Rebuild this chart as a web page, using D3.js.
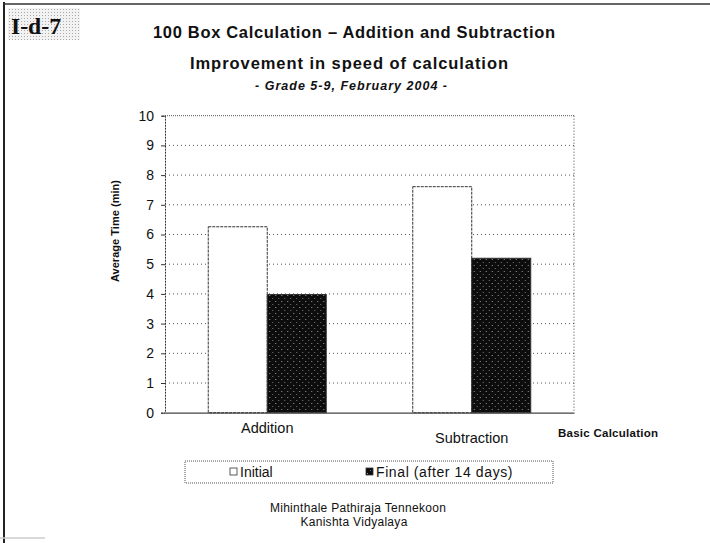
<!DOCTYPE html>
<html>
<head>
<meta charset="utf-8">
<script src="https://cdn.jsdelivr.net/npm/d3@7"></script>
<style>
  html, body { margin: 0; padding: 0; background: #fff; }
  svg { display: block; }
  text { font-family: "Liberation Sans", Arial, sans-serif; fill: #111; }
</style>
</head>
<body>
<svg id="chart" width="710" height="543"></svg>
<script>
// Average time (minutes) to finish a 100-box sheet
const categories = ["Addition", "Subtraction"];
const seriesNames = ["Initial", "Final (after 14 days)"];
const initialTimes = [6.26, 7.61];
const finalTimes = [3.98, 5.2];
const yTicks = [0, 1, 2, 3, 4, 5, 6, 7, 8, 9, 10];

const rows = categories.map((c, i) => ({
  category: c,
  values: [
    { series: seriesNames[0], value: initialTimes[i] },
    { series: seriesNames[1], value: finalTimes[i] }
  ]
}));

const svg = d3.select("#chart");
const W = 710, H = 543;
const plot = { left: 165, right: 574, top: 115.7, bottom: 412.7 };

// stippled fills for the dark bars and the reference-tag box
const defs = svg.append("defs");
const dark = defs.append("pattern").attr("id", "stipple")
  .attr("patternUnits", "userSpaceOnUse").attr("width", 6).attr("height", 6);
dark.append("rect").attr("width", 6).attr("height", 6).attr("fill", "#0d0d0d");
dark.append("rect").attr("x", 1).attr("y", 1).attr("width", 1).attr("height", 1).attr("fill", "#9a9a9a");
dark.append("rect").attr("x", 4).attr("y", 4).attr("width", 1).attr("height", 1).attr("fill", "#777");
const light = defs.append("pattern").attr("id", "tagdots")
  .attr("patternUnits", "userSpaceOnUse").attr("width", 3).attr("height", 3);
light.append("rect").attr("width", 3).attr("height", 3).attr("fill", "#f2f2f2");
light.append("rect").attr("width", 1).attr("height", 1).attr("fill", "#aaa");

// page frame
svg.append("line").attr("x1", 4).attr("x2", 4).attr("y1", 2).attr("y2", H)
  .attr("stroke", "#222").attr("stroke-width", 2);
svg.append("line").attr("x1", 3).attr("x2", W).attr("y1", 4).attr("y2", 4)
  .attr("stroke", "#333").attr("stroke-width", 1.5);
svg.append("line").attr("x1", 0).attr("x2", 45).attr("y1", 538).attr("y2", 538)
  .attr("stroke", "#ccc").attr("stroke-width", 1.5);

// reference tag
svg.append("rect").attr("x", 8).attr("y", 8).attr("width", 72).attr("height", 32)
  .attr("fill", "url(#tagdots)");
svg.append("text").attr("x", 11).attr("y", 34)
  .style("font-family", "'Liberation Serif', 'DejaVu Serif', serif")
  .style("font-weight", "bold").style("font-size", "24px")
  .attr("textLength", 50).attr("lengthAdjust", "spacingAndGlyphs").text("I-d-7");

// titles
svg.append("text").attr("x", 354).attr("y", 38).attr("text-anchor", "middle")
  .style("font-weight", "bold").style("font-size", "16.5px")
  .attr("textLength", 402).attr("lengthAdjust", "spacing")
  .text("100 Box Calculation – Addition and Subtraction");
svg.append("text").attr("x", 349).attr("y", 69).attr("text-anchor", "middle")
  .style("font-weight", "bold").style("font-size", "16.5px")
  .attr("textLength", 318).attr("lengthAdjust", "spacing")
  .text("Improvement in speed of calculation");
svg.append("text").attr("x", 351).attr("y", 90).attr("text-anchor", "middle")
  .style("font-weight", "bold").style("font-style", "italic").style("font-size", "12.5px")
  .attr("textLength", 192).attr("lengthAdjust", "spacing")
  .text("- Grade 5-9, February 2004 -");

// scales
const x0 = d3.scaleBand().domain(categories)
  .range([plot.left, plot.right]).paddingInner(0.423).paddingOuter(0.2115);
const x1 = d3.scaleBand().domain(seriesNames).range([0, x0.bandwidth()]);
const y = d3.scaleLinear().domain([0, 10]).range([plot.bottom, plot.top]);
const fills = d3.scaleOrdinal().domain(seriesNames).range(["#ffffff", "url(#stipple)"]);

// gridlines
svg.append("g").selectAll("line").data(yTicks.filter(t => t > 0)).join("line")
  .attr("x1", plot.left).attr("x2", plot.right)
  .attr("y1", d => y(d)).attr("y2", d => y(d))
  .attr("stroke", "#555").attr("stroke-width", 1)
  .attr("stroke-dasharray", d => d === 10 ? "1,1" : "1,3");
// right edge of plot area
svg.append("line").attr("x1", plot.right).attr("x2", plot.right)
  .attr("y1", plot.top).attr("y2", plot.bottom)
  .attr("stroke", "#444").attr("stroke-dasharray", "1,2");

// bars
svg.append("g").selectAll("g").data(rows).join("g")
  .attr("transform", d => `translate(${x0(d.category)},0)`)
  .selectAll("rect").data(d => d.values).join("rect")
  .attr("x", d => x1(d.series))
  .attr("y", d => y(d.value))
  .attr("width", x1.bandwidth())
  .attr("height", d => y(0) - y(d.value))
  .attr("fill", d => fills(d.series))
  .attr("stroke", "#333").attr("stroke-width", 1)
  .attr("stroke-dasharray", d => d.series === seriesNames[0] ? "3,1" : null);

// y axis
const yAxis = svg.append("g").attr("transform", `translate(${plot.left},0)`)
  .call(d3.axisLeft(y).tickValues(yTicks).tickSize(4).tickPadding(7));
yAxis.select(".domain").attr("stroke", "#333").attr("stroke-dasharray", "2,1");
yAxis.selectAll(".tick line").attr("stroke", "#333");
yAxis.selectAll(".tick text").style("font-size", "14px")
  .style("font-family", "'Liberation Sans', Arial, sans-serif").attr("fill", "#111");

// x axis (the second label sits a little lower on the sheet)
const xAxis = svg.append("g").attr("transform", `translate(0,${plot.bottom})`)
  .call(d3.axisBottom(x0).tickSize(0).tickPadding(10));
xAxis.select(".domain").attr("stroke", "#444").attr("stroke-width", 1.2);
xAxis.selectAll(".tick text").style("font-size", "14.5px")
  .style("font-family", "'Liberation Sans', Arial, sans-serif").attr("fill", "#111")
  .attr("y", (d, i) => (i === 0 ? 10 : 20));

// axis titles
svg.append("text").attr("transform", "translate(119,231) rotate(-90)")
  .attr("text-anchor", "middle").style("font-weight", "bold").style("font-size", "11px")
  .attr("textLength", 102).attr("lengthAdjust", "spacing")
  .text("Average Time (min)");
svg.append("text").attr("x", 558).attr("y", 437)
  .style("font-weight", "bold").style("font-size", "11.5px")
  .attr("textLength", 100).attr("lengthAdjust", "spacing")
  .text("Basic Calculation");

// legend
const legend = svg.append("g");
legend.append("rect").attr("x", 185).attr("y", 461).attr("width", 368).attr("height", 22)
  .attr("fill", "none").attr("stroke", "#555").attr("stroke-dasharray", "1,1");
const legendX = [230, 366];
const items = legend.selectAll("g.item").data(seriesNames).join("g").attr("class", "item")
  .attr("transform", (d, i) => `translate(${legendX[i]},472)`);
items.append("rect").attr("x", 0).attr("y", -4).attr("width", 7).attr("height", 7)
  .attr("fill", d => fills(d)).attr("stroke", "#333").attr("stroke-width", 0.8);
items.append("text").attr("x", 10).attr("y", 5).style("font-size", "14px")
  .style("letter-spacing", (d, i) => (i === 1 ? "0.6px" : "0px"))
  .text(d => d);

// credits
svg.append("text").attr("x", 358).attr("y", 512).attr("text-anchor", "middle")
  .style("font-size", "12px").style("letter-spacing", "0.3px")
  .text("Mihinthale Pathiraja Tennekoon");
svg.append("text").attr("x", 354).attr("y", 526).attr("text-anchor", "middle")
  .style("font-size", "12px").style("letter-spacing", "0.3px")
  .text("Kanishta Vidyalaya");
</script>
</body>
</html>
